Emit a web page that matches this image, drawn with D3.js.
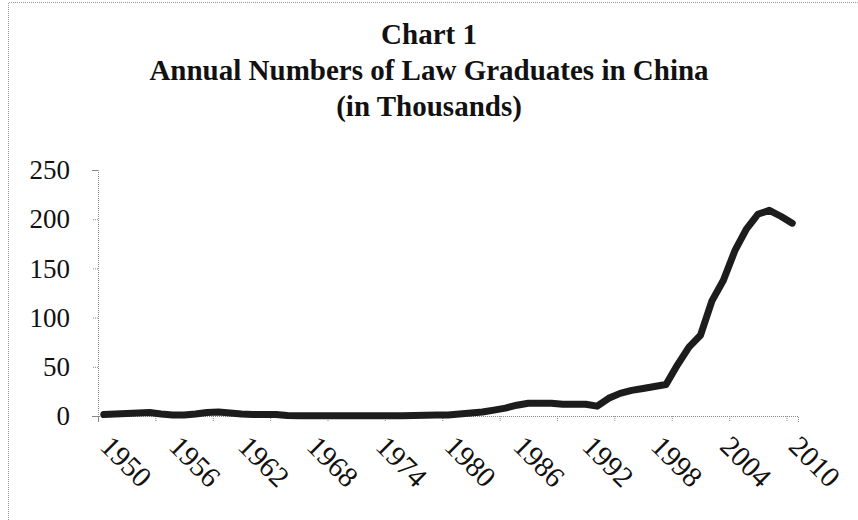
<!DOCTYPE html>
<html>
<head>
<meta charset="utf-8">
<script src="https://cdn.jsdelivr.net/npm/d3@7"></script>
<style>
  body { margin: 0; background: #fff; }
  svg text { font-family: "Liberation Serif", "DejaVu Serif", serif; fill: #111; }
</style>
</head>
<body>
<div id="chart"></div>
<script>
		//the size of the graph
		var width = 858,
			height = 520;

		// chart data, thousands of law graduates per year
		var years = d3.range(1950, 2011);
		var graduates = [
			1.5, 2, 2.5, 3, 3.5, 2, 1, 1, 2, 3.5,
			4, 3, 2, 1.5, 1.5, 1.5, 0.5, 0.3, 0.2, 0.2,
			0.2, 0.2, 0.2, 0.2, 0.2, 0.2, 0.3, 0.5, 0.8, 1,
			1, 2, 3, 4, 6, 8, 11, 13, 13, 13,
			12, 12, 12, 10, 18, 23, 26, 28, 30, 32,
			52, 70, 82, 117, 138, 168, 190, 205, 209, 203,
			196
		];
		var yTicks = [0, 50, 100, 150, 200, 250];
		var xTickYears = d3.range(1950, 2011, 5);
		var xLabelYears = d3.range(1950, 2011, 6);
		var titleLines = ["Chart 1", "Annual Numbers of Law Graduates in China", "(in Thousands)"];

		var data = years.map(function(d, i) { return { year: d, value: graduates[i] }; });

		var margin = { left: 98, right: 60, top: 170, bottom: 104 };

		var x = d3.scaleLinear()
					.domain([1950, 2011])
					.range([margin.left, width - margin.right]);

		var y = d3.scaleLinear()
					.domain([0, 250])
					.range([height - margin.bottom, margin.top]);

		var svg = d3.select('#chart')
			.append('svg')
			  .attr("width", width)
			  .attr("height", height);

		// frame (only top and left are visible in the scan)
		svg.append("path")
			.attr("d", "M8.5," + height + "V2.5H" + width)
			.style("fill", "none")
			.style("stroke", "#999")
			.style("stroke-width", 1)
			.style("stroke-dasharray", "1,1");

		// title
		svg.selectAll(".title")
			.data(titleLines)
			.enter()
			.append("text")
			.attr("class", "title")
			.attr("x", width / 2)
			.attr("y", function(d, i) { return 44 + i * 36; })
			.attr("text-anchor", "middle")
			.style("font-size", "29px")
			.style("font-weight", "bold")
			.text(function(d) { return d; });

		// y axis
		var yAxis = svg.append("g")
			.attr("transform", "translate(" + margin.left + ",0)")
			.call(d3.axisLeft(y).tickValues(yTicks).tickSize(6).tickPadding(22));

		// x axis, ticks sit on category boundaries
		var xAxis = svg.append("g")
			.attr("transform", "translate(0," + y(0) + ")")
			.call(d3.axisBottom(x).tickValues(xTickYears).tickSize(6).tickFormat(""));

		svg.selectAll(".domain, .tick line")
			.style("stroke", "#888")
			.style("stroke-width", 1)
			.style("stroke-dasharray", "1,1");

		yAxis.selectAll("text")
			.style("font-size", "27px")
			.style("fill", "#111");

		// rotated year labels at category centres
		svg.selectAll(".x-label")
			.data(xLabelYears)
			.enter()
			.append("text")
			.attr("class", "x-label")
			.attr("transform", function(d) {
				return "translate(" + (x(d + 0.5) - 5) + "," + (y(0) + 32) + ") rotate(45)";
			})
			.style("font-size", "29px")
			.text(function(d) { return d; });

		// the series
		var line = d3.line()
			.x(function(d) { return x(d.year + 0.5); })
			.y(function(d) { return y(d.value); });

		svg.append("path")
			.datum(data)
			.attr("d", line)
			.style("fill", "none")
			.style("stroke", "#1c1c1c")
			.style("stroke-width", 7)
			.style("stroke-linejoin", "round")
			.style("stroke-linecap", "round");
</script>
</body>
</html>
